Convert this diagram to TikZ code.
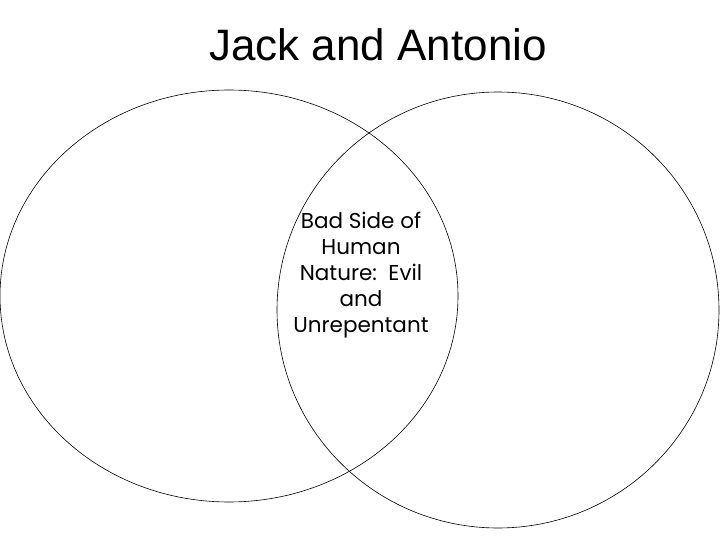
\documentclass[tikz,border=0pt]{standalone}
\usepackage{fontspec}
\setmainfont{Liberation Sans}
\newfontfamily\gothic{Poppins}
\begin{document}
\begin{tikzpicture}[x=1pt,y=-1pt,ring/.style={draw=black,line width=0.6pt}]
\useasboundingbox (0,0) rectangle (720,540);
\draw[ring] (229,296) ellipse [x radius=229,y radius=206];
\draw[ring] (498,310) ellipse [x radius=221,y radius=218];
\node (title) at (378,45) {\fontsize{44}{48}\selectfont Jack and Antonio};
\node[align=center,font=\gothic\fontsize{21.5}{26}\selectfont] (mid) at (361,275) {Bad Side of\\Human\\Nature:\ \ Evil\\and\\Unrepentant};
\end{tikzpicture}
\end{document}
